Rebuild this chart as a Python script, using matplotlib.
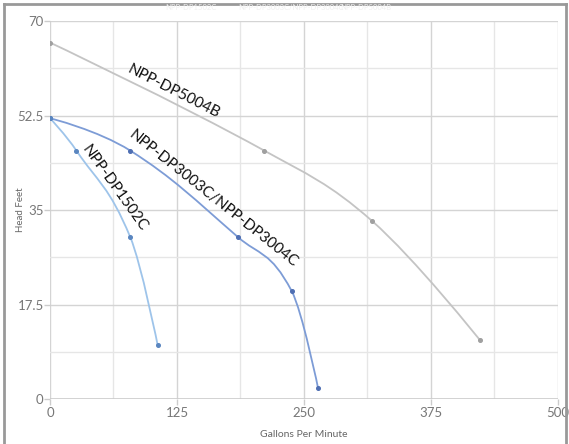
import numpy as np
import matplotlib
matplotlib.use("Agg")
import matplotlib.pyplot as plt
from matplotlib.path import Path
from matplotlib.patches import PathPatch
from matplotlib.lines import Line2D

# ---- data ----
series_names = ["NPP-DP1502C", "NPP-DP3003C/NPP-DP3004C", "NPP-DP5004B"]
gpm_1502 = [0, 26, 79, 106]
head_1502 = [52, 46, 30, 10]
gpm_3003 = [0, 79, 185, 238, 264]
head_3003 = [52, 46, 30, 20, 2]
gpm_5004 = [0, 211, 317, 423]
head_5004 = [66, 46, 33, 11]
x_ticks = [0, 125, 250, 375, 500]
y_ticks = [0, 17.5, 35, 52.5, 70]

FONT = ["Lato", "DejaVu Sans"]
plt.rcParams["font.family"] = FONT

fig = plt.figure(figsize=(5.69, 4.44), dpi=100)
ax = fig.add_axes([50/569, 1-399/444, (557.7-50)/569, (399-21)/444])
ax.set_xlim(0, 500)
ax.set_ylim(0, 70)

# grid
for v in np.arange(0, 501, 62.5):
    major = (v % 125 == 0)
    ax.axvline(v, color="#d4d4d4" if major else "#e6e6e6", lw=1.0, zorder=0)
for v in np.arange(0, 70.01, 8.75):
    major = abs((v / 17.5) - round(v / 17.5)) < 1e-9
    ax.axhline(v, color="#d4d4d4" if major else "#e6e6e6", lw=1.0, zorder=0)
ax.axhline(0, color="#cccccc", lw=1.2, zorder=1)

for s in ax.spines.values():
    s.set_visible(False)
ax.set_xticks(x_ticks)
ax.set_xticklabels([str(t) for t in x_ticks])
ax.set_yticks(y_ticks)
ax.set_yticklabels(["0", "17.5", "35", "52.5", "70"])
ax.tick_params(axis="both", colors="#cccccc", labelcolor="#777777", labelsize=9.5, length=4, width=1)
ax.tick_params(axis="x", pad=2)
ax.tick_params(axis="y", pad=0.5)
ax.set_xlabel("Gallons Per Minute", color="#666666", fontsize=7.5)
ax.xaxis.set_label_coords(0.5, -(434 - 399) / 378, transform=ax.transAxes)
ax.xaxis.label.set_va("center")
ax.set_ylabel("Head Feet", color="#666666", fontsize=7)
ax.yaxis.set_label_coords((21 - 50) / 507.7, 0.5, transform=ax.transAxes)
ax.yaxis.label.set_va("center")


def spline_path(xs, ys, smoothing=1.5):
    n = len(xs)
    denom = smoothing + 1
    lc = [None] * n
    rc = [None] * n
    for i in range(n):
        px, py = xs[i], ys[i]
        if i == 0 or i == n - 1:
            lc[i] = (px, py)
            rc[i] = (px, py)
            continue
        lx, ly = xs[i-1], ys[i-1]
        nx, ny = xs[i+1], ys[i+1]
        lcx = (smoothing*px + lx) / denom
        lcy = (smoothing*py + ly) / denom
        rcx = (smoothing*px + nx) / denom
        rcy = (smoothing*py + ny) / denom
        corr = ((rcy - lcy) * (rcx - px)) / (rcx - lcx) + py - rcy
        lcy += corr
        rcy += corr
        if lcy > ly and lcy > py:
            lcy = max(ly, py); rcy = 2*py - lcy
        elif lcy < ly and lcy < py:
            lcy = min(ly, py); rcy = 2*py - lcy
        if rcy > ny and rcy > py:
            rcy = max(ny, py); lcy = 2*py - rcy
        elif rcy < ny and rcy < py:
            rcy = min(ny, py); lcy = 2*py - rcy
        lc[i] = (lcx, lcy)
        rc[i] = (rcx, rcy)
    verts = [(xs[0], ys[0])]
    codes = [Path.MOVETO]
    for i in range(1, n):
        verts += [rc[i-1], lc[i], (xs[i], ys[i])]
        codes += [Path.CURVE4] * 3
    return Path(verts, codes)


series = [
    (gpm_5004, head_5004, "#c4c4c4", "#a0a0a0"),
    (gpm_3003, head_3003, "#7d9cd6", "#4f6fb3"),
    (gpm_1502, head_1502, "#9ec4ea", "#5a86c0"),
]
for xs, ys, col, mcol in series:
    p = spline_path(xs, ys)
    ax.add_patch(PathPatch(p, facecolor="none", edgecolor=col, lw=1.3, zorder=3))
    ax.plot(xs, ys, ls="none", marker="o", ms=2.6, color=mcol, zorder=4)

def px2data(px, py):
    return (px - 50) / 1.0154, 70 - (py - 21) / 5.4

lab = [
    ("NPP-DP5004B", (174, 92), -27),
    ("NPP-DP3003C/NPP-DP3004C", (213, 199), -38.5),
    ("NPP-DP1502C", (115, 188), -54.5),
]
for txt, (px, py), rot in lab:
    dx, dy = px2data(px, py)
    ax.text(dx, dy, txt, rotation=rot, rotation_mode="anchor", ha="center", va="center",
            fontsize=11, color="#111111", zorder=5)

# faint legend at top
for txt, x0 in zip(series_names, [165, 238, 340]):
    fig.text(x0/569, 1-8/444, txt, fontsize=5.5, color="#f0f0f0", ha="left", va="center")

# outer frame
fig.add_artist(Line2D([4/569, 4/569], [0, 1-4/444], color="#999999", lw=2, transform=fig.transFigure))
fig.add_artist(Line2D([4/569, 566/569], [1-4/444, 1-4/444], color="#999999", lw=2, transform=fig.transFigure))
fig.add_artist(Line2D([566/569, 566/569], [0, 1-4/444], color="#999999", lw=2, transform=fig.transFigure))

fig.savefig("out.png", dpi=100)
